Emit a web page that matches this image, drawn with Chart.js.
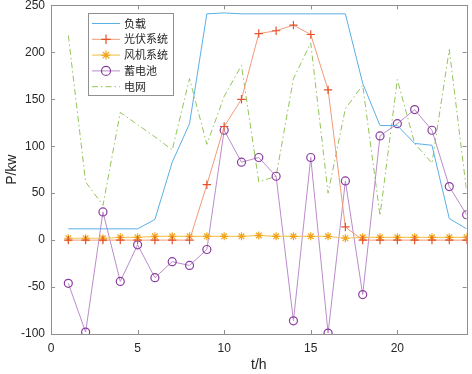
<!DOCTYPE html>
<html>
<head>
<meta charset="utf-8">
<script src="https://cdn.jsdelivr.net/npm/chart.js@4/dist/chart.umd.min.js"></script>
<style>
  html, body { margin: 0; background: #fff; }
  #wrap { width: 472px; height: 374px; }
</style>
</head>
<body>
<div id="wrap"><canvas id="chart"></canvas></div>
<script>
// hours of the day
const hours = [1, 2, 3, 4, 5, 6, 7, 8, 9, 10, 11, 12, 13, 14, 15, 16, 17, 18, 19, 20, 21, 22, 23, 24];

// power of each part, kW
const loadPower = [12, 12, 12, 12, 12, 22, 83, 124, 241, 242, 241, 241, 241, 241, 241, 241, 241, 167, 122, 122, 103, 101, 23, 12];
const pvPower = [0, 0, 0, 0, 0, 0, 0, 0, 59, 121, 150, 220, 223, 229, 219, 160, 14, 0, 0, 0, 0, 0, 0, 0];
const windPower = [2, 2, 2, 3, 3, 4, 4, 4, 4, 4, 4, 5, 4, 4, 4, 4, 2, 3, 3, 3, 3, 3, 3, 3];
const batteryPower = [-46, -98, 30, -44, -5, -40, -23, -27, -10, 117, 83, 88, 68, -86, 88, -99, 63, -58, 111, 124, 139, 117, 57, 27];
const gridPower = [218, 62, 37, 136, 123, 110, 96, 172, 102, 153, 186, 62, 68, 172, 210, 50, 140, 165, 26, 171, 103, 82, 203, 52];

const seriesNames = ['负载', '光伏系统', '风机系统', '蓄电池', '电网'];

const xTicks = [0, 5, 10, 15, 20];
const yTicks = [-100, -50, 0, 50, 100, 150, 200, 250];

const axisColor = '#8f8f8f';
const textColor = '#262626';

// To pair hours with values
function toPoints(values) {
    return hours.map((h, i) => ({ x: h, y: values[i] }));
}

// To draw the axes box with inward ticks (like MATLAB)
const boxAxes = {
    id: 'boxAxes',
    beforeDatasetsDraw(chart) {
        const ctx = chart.ctx;
        const a = chart.chartArea;
        const xs = chart.scales.x, ys = chart.scales.y;
        ctx.save();
        ctx.strokeStyle = axisColor;
        ctx.lineWidth = 1;
        ctx.strokeRect(Math.round(a.left) + 0.5, Math.round(a.top) + 0.5,
            Math.round(a.right - a.left), Math.round(a.bottom - a.top));
        ctx.beginPath();
        xTicks.forEach(v => {
            const px = Math.round(xs.getPixelForValue(v)) + 0.5;
            ctx.moveTo(px, a.bottom); ctx.lineTo(px, a.bottom - 4);
            ctx.moveTo(px, a.top); ctx.lineTo(px, a.top + 4);
        });
        yTicks.forEach(v => {
            const py = Math.round(ys.getPixelForValue(v)) + 0.5;
            ctx.moveTo(a.left, py); ctx.lineTo(a.left + 4, py);
            ctx.moveTo(a.right, py); ctx.lineTo(a.right - 4, py);
        });
        ctx.stroke();
        ctx.restore();
    }
};

// To draw the legend box inside the plot
const boxLegend = {
    id: 'boxLegend',
    afterDraw(chart) {
        const ctx = chart.ctx;
        const x0 = 88, y0 = 13, w = 85, h = 82, rowH = 15.8;
        ctx.save();
        ctx.fillStyle = '#fff';
        ctx.fillRect(x0, y0, w, h);
        ctx.strokeStyle = axisColor;
        ctx.lineWidth = 1;
        ctx.strokeRect(x0 + 0.5, y0 + 0.5, w, h);
        chart.data.datasets.forEach((ds, i) => {
            const y = y0 + 10.5 + i * rowH;
            ctx.save();
            ctx.strokeStyle = ds.borderColor;
            ctx.lineWidth = ds.borderWidth;
            ctx.setLineDash(ds.borderDash || []);
            ctx.beginPath();
            ctx.moveTo(x0 + 4, y);
            ctx.lineTo(x0 + 32, y);
            ctx.stroke();
            ctx.restore();
            if (ds.pointRadius > 0) {
                ctx.save();
                ctx.strokeStyle = ds.pointBorderColor;
                ctx.fillStyle = ds.pointBackgroundColor;
                ctx.lineWidth = ds.pointBorderWidth;
                Chart.helpers.drawPoint(ctx, {
                    pointStyle: ds.pointStyle,
                    radius: ds.pointRadius + 0.5,
                    borderWidth: ds.pointBorderWidth,
                    rotation: 0
                }, x0 + 18, y);
                ctx.restore();
            }
            ctx.fillStyle = textColor;
            ctx.font = '11px "Noto Sans CJK SC"';
            ctx.textBaseline = 'middle';
            ctx.fillText(seriesNames[i], x0 + 36, y);
        });
        ctx.restore();
    }
};

const ctx = document.getElementById('chart').getContext('2d');
const chart = new Chart(ctx, {
    type: 'line',
    data: {
        datasets: [
            {
                label: seriesNames[0],
                data: toPoints(loadPower),
                borderColor: '#5ab0e6',
                borderWidth: 1,
                pointRadius: 0
            },
            {
                label: seriesNames[1],
                data: toPoints(pvPower),
                borderColor: '#f29a78',
                borderWidth: 1,
                pointStyle: 'cross',
                pointRadius: 4.2,
                pointBorderWidth: 1.2,
                pointBorderColor: '#e4532a',
                pointBackgroundColor: '#e4532a'
            },
            {
                label: seriesNames[2],
                data: toPoints(windPower),
                borderColor: '#f4c860',
                borderWidth: 1.2,
                pointStyle: 'star',
                pointRadius: 4,
                pointBorderWidth: 1.2,
                pointBorderColor: '#f0a51c',
                pointBackgroundColor: '#f0a51c'
            },
            {
                label: seriesNames[3],
                data: toPoints(batteryPower),
                borderColor: '#bb8cc9',
                borderWidth: 1,
                pointStyle: 'circle',
                pointRadius: 4,
                pointBorderWidth: 1.2,
                pointBorderColor: '#8a3c9e',
                pointBackgroundColor: 'rgba(0,0,0,0)'
            },
            {
                label: seriesNames[4],
                data: toPoints(gridPower),
                borderColor: '#94c45a',
                borderWidth: 1,
                borderDash: [6, 3, 1.5, 3],
                pointRadius: 0
            }
        ]
    },
    options: {
        responsive: true,
        maintainAspectRatio: false,
        animation: false,
        devicePixelRatio: 1,
        layout: { padding: { top: 5, right: 5, left: 0, bottom: 0 } },
        plugins: {
            legend: { display: false },
            tooltip: { enabled: false }
        },
        elements: { line: { tension: 0 } },
        scales: {
            x: {
                type: 'linear',
                min: 0,
                max: 24,
                grid: { display: false, drawTicks: false },
                border: { display: false },
                afterBuildTicks: s => { s.ticks = xTicks.map(v => ({ value: v })); },
                afterFit: s => { s.height = 40; s.paddingLeft = 0; s.paddingRight = 0; },
                ticks: {
                    color: textColor,
                    font: { family: '"Liberation Sans", Arial', size: 12 },
                    padding: 7,
                    maxRotation: 0
                },
                title: {
                    display: true,
                    text: 't/h',
                    color: textColor,
                    font: { family: '"Liberation Sans", Arial', size: 14 },
                    padding: { top: 0, bottom: 0 }
                }
            },
            y: {
                min: -100,
                max: 250,
                grid: { display: false, drawTicks: false },
                border: { display: false },
                afterBuildTicks: s => { s.ticks = yTicks.map(v => ({ value: v })); },
                afterFit: s => { s.width = 51; s.paddingTop = 0; s.paddingBottom = 0; },
                ticks: {
                    color: textColor,
                    font: { family: '"Liberation Sans", Arial', size: 12 },
                    padding: 6
                },
                title: {
                    display: true,
                    text: 'P/kw',
                    color: textColor,
                    font: { family: '"Liberation Sans", Arial', size: 14 },
                    padding: { top: 4, bottom: 0 }
                }
            }
        }
    },
    plugins: [boxAxes, boxLegend]
});
</script>
</body>
</html>
